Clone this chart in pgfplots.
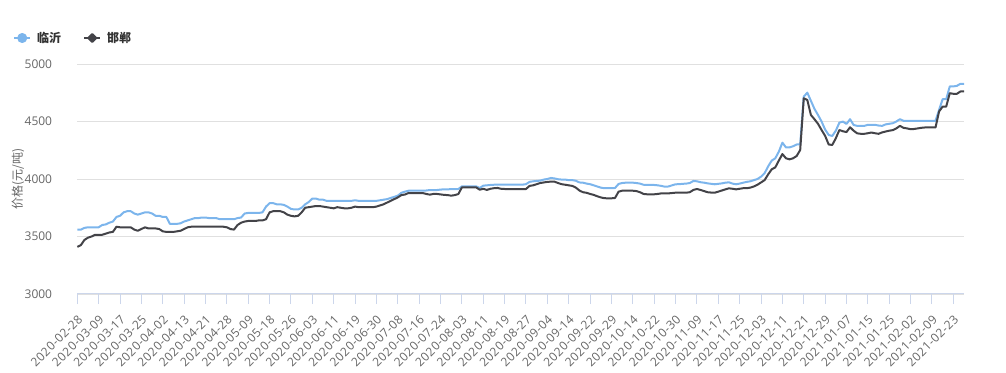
\documentclass[border=0pt]{standalone}
\usepackage{fontspec}
\setmainfont{Open Sans}
\newfontfamily\cjk{Noto Sans CJK SC}
\newfontfamily\xlab[LetterSpace=4]{Open Sans}
\usepackage{pgfplots}
\usepackage{pgfplotstable}
\pgfplotsset{compat=1.18}
\definecolor{cA}{HTML}{7CB5EC}
\definecolor{cB}{HTML}{434348}
\definecolor{gridc}{HTML}{E0E0E0}
\definecolor{axc}{HTML}{CCD6EB}
\definecolor{labc}{HTML}{666666}
\definecolor{legc}{HTML}{333333}
\pgfplotstableread{
i a b
0 3560 3410
1 3560 3425
2 3575 3470
3 3580 3490
4 3580 3500
5 3580 3515
6 3580 3515
7 3600 3515
8 3605 3525
9 3620 3535
10 3630 3540
11 3670 3585
12 3680 3580
13 3710 3580
14 3720 3580
15 3720 3580
16 3700 3560
17 3690 3550
18 3700 3565
19 3710 3580
20 3710 3570
21 3700 3570
22 3680 3570
23 3680 3565
24 3670 3545
25 3670 3540
26 3610 3540
27 3610 3540
28 3610 3545
29 3615 3550
30 3630 3565
31 3640 3580
32 3650 3585
33 3660 3585
34 3660 3585
35 3665 3585
36 3665 3585
37 3660 3585
38 3660 3585
39 3660 3585
40 3650 3585
41 3650 3585
42 3650 3580
43 3650 3565
44 3650 3560
45 3660 3600
46 3665 3620
47 3700 3630
48 3705 3635
49 3705 3635
50 3705 3635
51 3705 3640
52 3710 3640
53 3760 3650
54 3790 3710
55 3790 3720
56 3780 3720
57 3780 3720
58 3775 3710
59 3760 3690
60 3740 3680
61 3735 3675
62 3735 3680
63 3750 3710
64 3780 3750
65 3800 3755
66 3830 3760
67 3830 3765
68 3820 3765
69 3820 3760
70 3810 3755
71 3810 3750
72 3810 3745
73 3810 3755
74 3810 3750
75 3810 3745
76 3810 3745
77 3810 3750
78 3815 3760
79 3810 3755
80 3810 3755
81 3810 3755
82 3810 3755
83 3810 3755
84 3810 3760
85 3815 3770
86 3820 3780
87 3825 3795
88 3835 3810
89 3845 3825
90 3855 3840
91 3880 3860
92 3890 3865
93 3898 3878
94 3898 3878
95 3898 3878
96 3898 3878
97 3898 3878
98 3900 3870
99 3904 3864
100 3904 3870
101 3904 3870
102 3908 3866
103 3910 3862
104 3910 3860
105 3912 3855
106 3913 3860
107 3913 3869
108 3936 3927
109 3936 3927
110 3936 3927
111 3936 3927
112 3936 3927
113 3922 3907
114 3942 3915
115 3945 3905
116 3948 3915
117 3950 3920
118 3951 3922
119 3951 3915
120 3951 3913
121 3951 3913
122 3951 3913
123 3951 3913
124 3951 3913
125 3951 3913
126 3955 3913
127 3975 3940
128 3980 3945
129 3983 3955
130 3986 3965
131 3995 3970
132 4000 3975
133 4009 3977
134 4005 3977
135 3998 3965
136 3995 3955
137 3995 3950
138 3990 3945
139 3990 3940
140 3985 3925
141 3970 3900
142 3968 3885
143 3960 3880
144 3955 3870
145 3945 3862
146 3935 3850
147 3925 3840
148 3920 3833
149 3920 3832
150 3920 3832
151 3922 3835
152 3957 3890
153 3965 3898
154 3968 3898
155 3968 3898
156 3968 3898
157 3965 3895
158 3960 3885
159 3950 3870
160 3948 3867
161 3948 3867
162 3948 3867
163 3945 3870
164 3940 3875
165 3933 3875
166 3935 3875
167 3945 3878
168 3954 3881
169 3955 3881
170 3958 3881
171 3960 3881
172 3965 3885
173 3983 3905
174 3980 3913
175 3972 3905
176 3968 3895
177 3962 3885
178 3958 3882
179 3954 3881
180 3958 3890
181 3962 3900
182 3968 3910
183 3971 3919
184 3960 3915
185 3954 3910
186 3960 3915
187 3968 3920
188 3975 3920
189 3980 3925
190 3990 3935
191 4000 3950
192 4020 3970
193 4050 3990
194 4110 4040
195 4160 4084
196 4180 4101
197 4238 4160
198 4316 4217
199 4275 4180
200 4275 4171
201 4285 4180
202 4300 4200
203 4302 4252
204 4716 4702
205 4751 4687
206 4680 4557
207 4610 4520
208 4557 4480
209 4500 4426
210 4430 4375
211 4383 4300
212 4374 4296
213 4420 4354
214 4490 4426
215 4499 4415
216 4479 4408
217 4520 4450
218 4470 4420
219 4462 4397
220 4462 4393
221 4462 4393
222 4471 4398
223 4471 4404
224 4471 4398
225 4465 4393
226 4462 4405
227 4475 4413
228 4480 4420
229 4485 4425
230 4500 4440
231 4520 4462
232 4506 4445
233 4506 4440
234 4506 4433
235 4506 4435
236 4506 4440
237 4506 4445
238 4506 4448
239 4506 4448
240 4506 4448
241 4506 4448
242 4601 4587
243 4694 4630
244 4694 4630
245 4805 4746
246 4805 4741
247 4810 4741
248 4828 4761
249 4828 4761
}\data
\begin{document}
\begin{tikzpicture}
\path[use as bounding box] (0,0) rectangle (1006pt,372pt);
\begin{axis}[at={(77.3pt,78pt)}, anchor=south west, scale only axis,
  width=886.7pt, height=230pt,
  xmin=0, xmax=249, ymin=3000, ymax=5000,
  ytick={3000,3500,4000,4500,5000},
  xtick={0,6,...,246},
  xticklabels={2020-02-28,2020-03-09,2020-03-17,2020-03-25,2020-04-02,2020-04-13,2020-04-21,2020-04-28,2020-05-09,2020-05-18,2020-05-26,2020-06-03,2020-06-11,2020-06-19,2020-06-30,2020-07-08,2020-07-16,2020-07-24,2020-08-03,2020-08-11,2020-08-19,2020-08-27,2020-09-04,2020-09-14,2020-09-22,2020-09-29,2020-10-14,2020-10-22,2020-10-30,2020-11-09,2020-11-17,2020-11-25,2020-12-03,2020-12-11,2020-12-21,2020-12-29,2021-01-07,2021-01-15,2021-01-25,2021-02-02,2021-02-09,2021-02-23},
  axis x line*=bottom, axis y line*=left,
  y axis line style={draw=none},
  x axis line style={draw=axc, line width=1pt},
  ymajorgrids, grid style={draw=gridc, line width=0.8pt},
  ytick style={draw=none},
  xtick style={draw=axc, line width=1pt},
  tick align=outside, major tick length=10pt,
  /pgf/number format/assume math mode=true,
  /pgf/number format/1000 sep={},
  yticklabel style={font=\fontsize{12}{12}\selectfont, text=labc, inner sep=0pt, anchor=east, xshift=-15pt},
  xticklabel style={font=\xlab\fontsize{12}{12}\selectfont, text=labc, inner sep=0pt, anchor=east, xshift=3pt, yshift=-13pt, rotate=45},
  ylabel={\cjk 价格(元/吨)},
  every axis y label/.style={at={(axis description cs:-0.0669,0.5)}, rotate=90, anchor=center, font=\fontsize{12}{12}\selectfont, text=labc},
  legend style={at={(axis description cs:-0.0725,1.113)}, anchor=west, draw=none, fill=none,
    font=\cjk\bfseries\fontsize{12}{12}\selectfont, text=legc, inner sep=0pt,
    /tikz/every odd column/.append style={column sep=4pt},
    /tikz/every even column/.append style={column sep=20pt}},
  legend columns=2, legend cell align=left,
  clip=false,
]
\addplot[cA, line width=2pt, line join=round,
  legend image code/.code={\draw[cA, line width=2pt] (0pt,0pt) -- (16pt,0pt); \fill[cA] (8pt,0pt) circle (4pt);}]
  table[x=i, y=a]{\data};
\addlegendentry{临沂}
\addplot[cB, line width=2pt, line join=round,
  legend image code/.code={\draw[cB, line width=2pt] (0pt,0pt) -- (16pt,0pt); \fill[cB] (8pt,4pt) -- (12pt,0pt) -- (8pt,-4pt) -- (4pt,0pt) -- cycle;}]
  table[x=i, y=b]{\data};
\addlegendentry{邯郸}
\end{axis}
\end{tikzpicture}
\end{document}
